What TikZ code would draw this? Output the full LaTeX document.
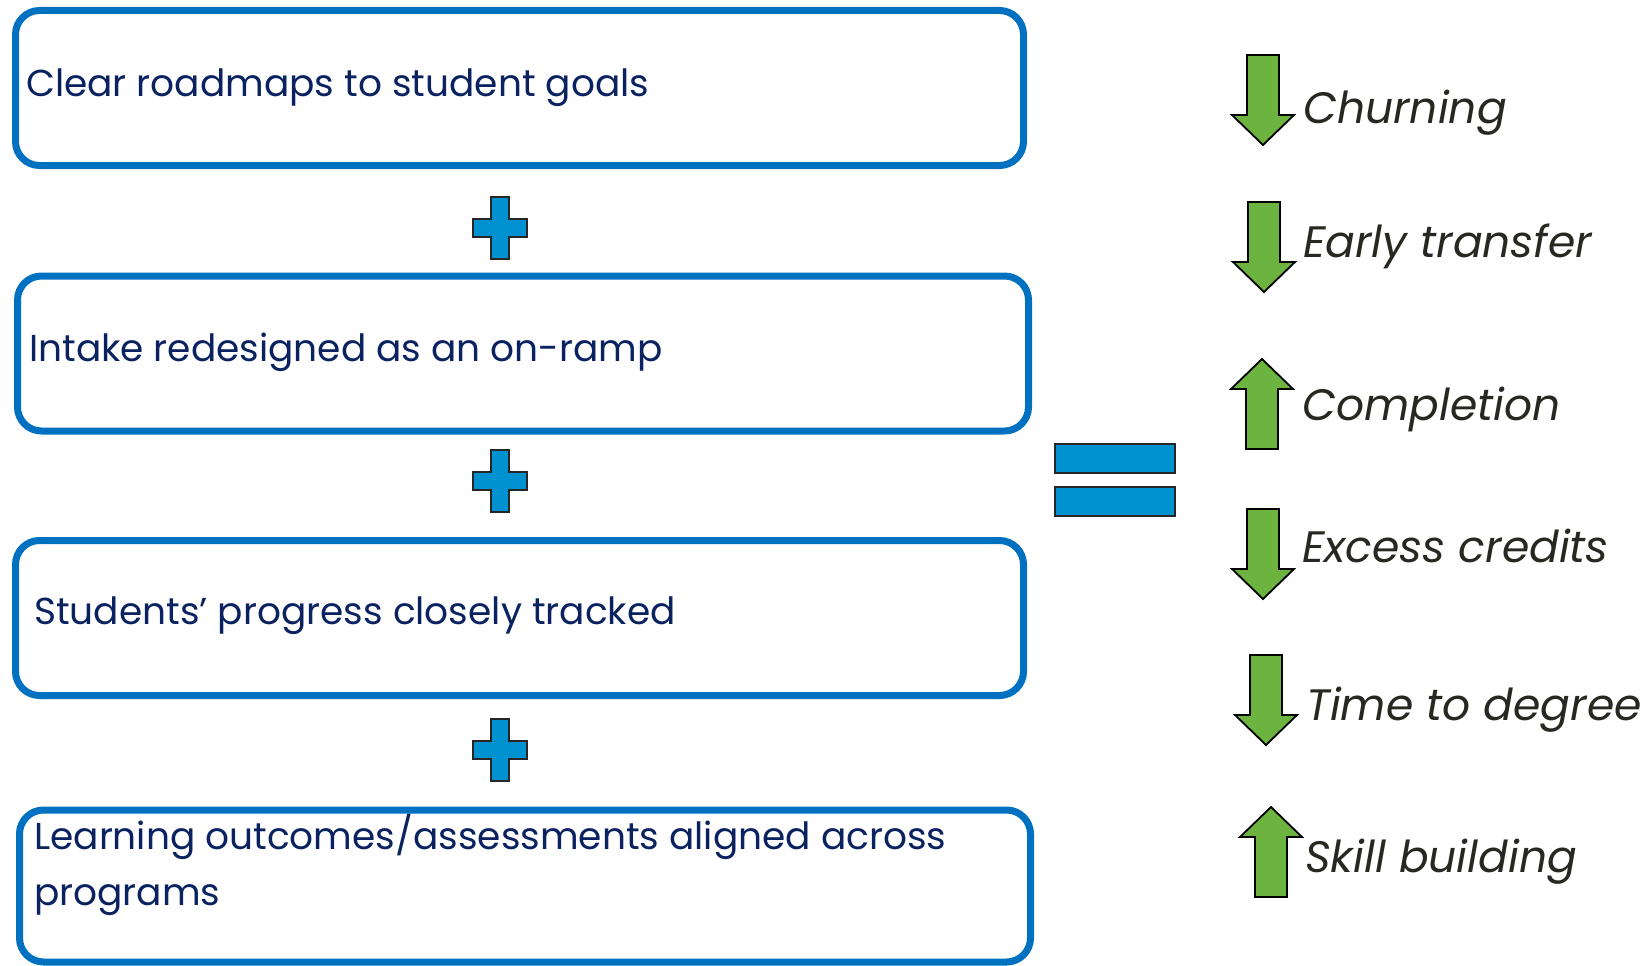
\documentclass[tikz,border=0pt]{standalone}
\usepackage{fontspec}
\setmainfont{Poppins}

\definecolor{boxblue}{RGB}{0,112,192}
\definecolor{goalnavy}{RGB}{10,34,96}
\definecolor{signblue}{RGB}{0,145,208}
\definecolor{trendgreen}{RGB}{108,180,63}
\definecolor{labelgray}{RGB}{40,40,35}

\begin{document}
\begin{tikzpicture}[x=1pt, y=-1pt]
  % styles
  \tikzstyle{goal box} = [draw=boxblue, line width=7pt, rounded corners=24pt, inner sep=0pt]
  \tikzstyle{goal text} = [text=goalnavy, font=\fontsize{37.5}{56}\selectfont, anchor=base west, inner sep=0pt, align=left]
  \tikzstyle{sign} = [fill=signblue, draw=black!85, line width=2.2pt, line join=miter]
  \tikzstyle{trend arrow} = [fill=trendgreen, draw=black, line width=1.8pt, line join=miter]
  \tikzstyle{trend label} = [text=labelgray, font=\itshape\fontsize{44}{44}\selectfont, anchor=base west, inner sep=0pt]
  \tikzset{trend/.pic={
    \draw[trend arrow] (-16,0) -- (16,0) -- (16,60) -- (31,60) -- (0,90)
      -- (-31,60) -- (-16,60) -- cycle;
  }}

  \useasboundingbox (0,0) rectangle (1647,966);

  % goal boxes
  \node[goal box, minimum width=1008pt, minimum height=155pt] (roadmapbox) at (519.5,88) {};
  \node[goal box, minimum width=1011pt, minimum height=155pt] (intakebox) at (523,353.5) {};
  \node[goal box, minimum width=1008pt, minimum height=155pt] (progressbox) at (519.5,618) {};
  \node[goal box, minimum width=1011pt, minimum height=152pt] (outcomebox) at (525,886) {};

  % goal texts
  \node[goal text] (roadmap) at (26,96) {Clear roadmaps to student goals};
  \node[goal text] (intake) at (29,361) {Intake redesigned as an on-ramp};
  \node[goal text] (progress) at (34,624) {Students’ progress closely tracked};
  \node[goal text] (outcome) at (34,905) {Learning outcomes/assessments aligned across\\programs};

  % plus signs
  \begin{scope}[shift={(500,228)}]
    \draw[sign] (-9,-31) -- (9,-31) -- (9,-9) -- (27,-9) -- (27,9) -- (9,9) -- (9,31)
      -- (-9,31) -- (-9,9) -- (-27,9) -- (-27,-9) -- (-9,-9) -- cycle;
  \end{scope}
  \begin{scope}[shift={(500,481)}]
    \draw[sign] (-9,-31) -- (9,-31) -- (9,-9) -- (27,-9) -- (27,9) -- (9,9) -- (9,31)
      -- (-9,31) -- (-9,9) -- (-27,9) -- (-27,-9) -- (-9,-9) -- cycle;
  \end{scope}
  \begin{scope}[shift={(500,750)}]
    \draw[sign] (-9,-31) -- (9,-31) -- (9,-9) -- (27,-9) -- (27,9) -- (9,9) -- (9,31)
      -- (-9,31) -- (-9,9) -- (-27,9) -- (-27,-9) -- (-9,-9) -- cycle;
  \end{scope}

  % equals sign
  \draw[sign] (1055,444) rectangle (1175,473);
  \draw[sign] (1055,487) rectangle (1175,516);

  % trend arrows
  \pic at (1263,55) {trend};
  \pic at (1264,202) {trend};
  \pic[yscale=-1] at (1262,449) {trend};
  \pic at (1263,509) {trend};
  \pic at (1266,655) {trend};
  \pic[yscale=-1] at (1271,897) {trend};

  % trend labels
  \node[trend label] (churning) at (1303,123) {Churning};
  \node[trend label] (transfer) at (1303,257) {Early transfer};
  \node[trend label] (completion) at (1302,420) {Completion};
  \node[trend label] (credits) at (1302,562) {Excess credits};
  \node[trend label] (degree) at (1306,720) {Time to degree};
  \node[trend label] (skill) at (1305,872) {Skill building};

\end{tikzpicture}
\end{document}
